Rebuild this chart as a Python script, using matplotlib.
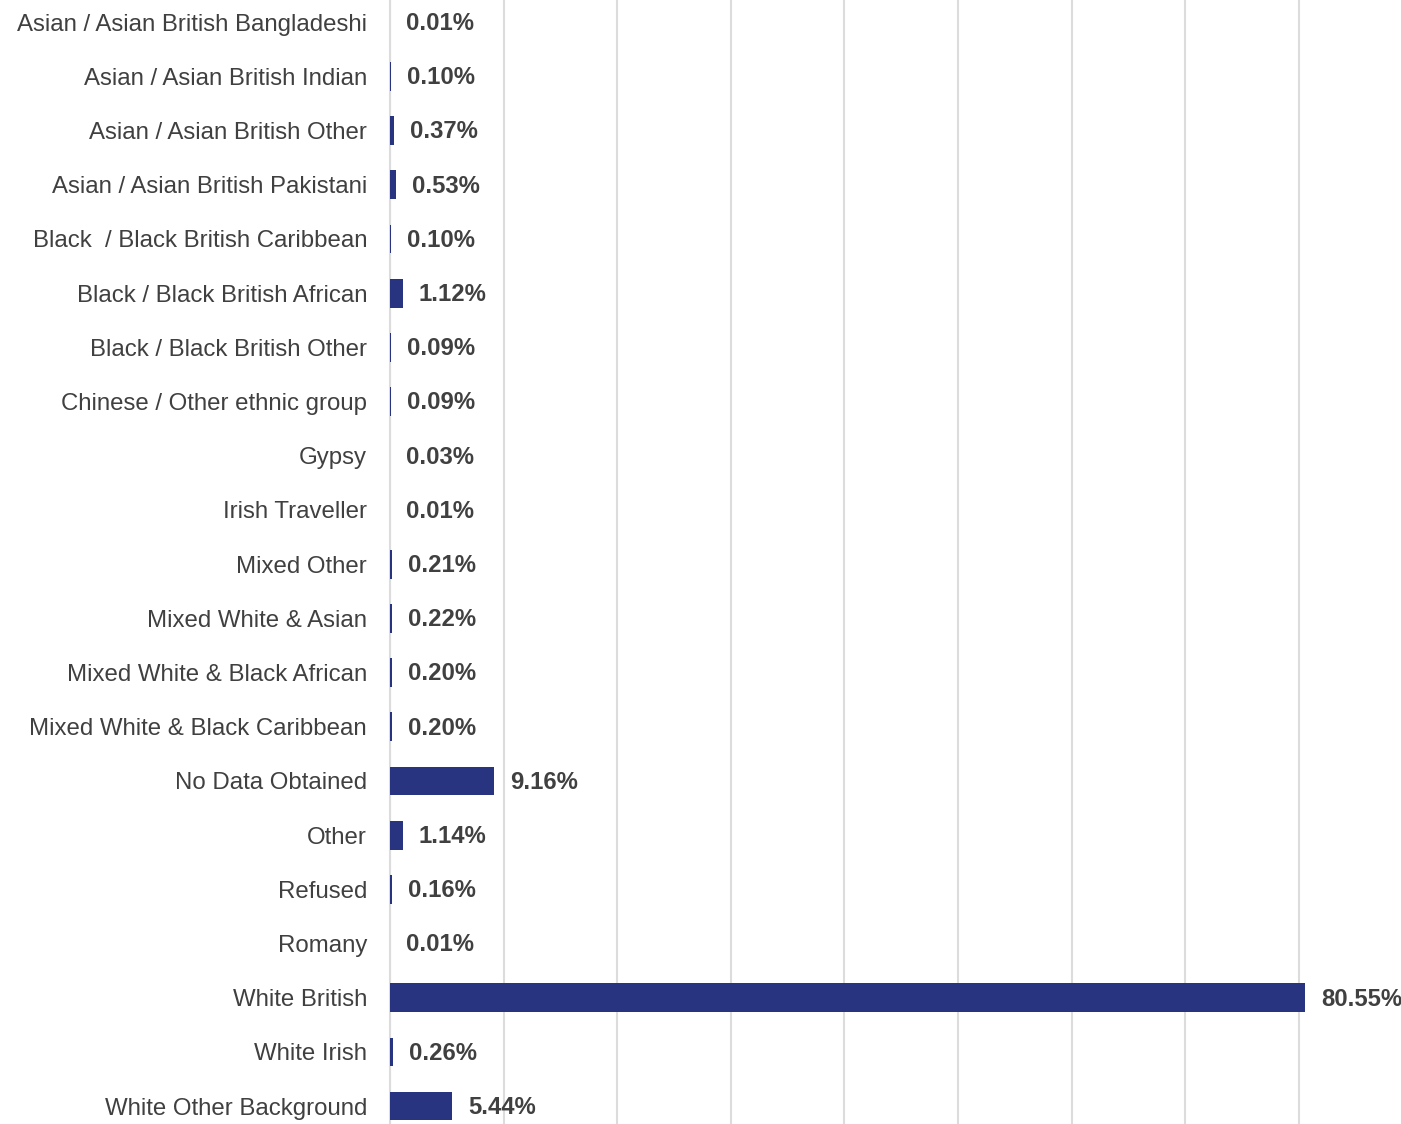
import matplotlib
matplotlib.use("Agg")
import matplotlib.pyplot as plt

groups = [
    "Asian / Asian British Bangladeshi",
    "Asian / Asian British Indian",
    "Asian / Asian British Other",
    "Asian / Asian British Pakistani",
    "Black  / Black British Caribbean",
    "Black / Black British African",
    "Black / Black British Other",
    "Chinese / Other ethnic group",
    "Gypsy",
    "Irish Traveller",
    "Mixed Other",
    "Mixed White & Asian",
    "Mixed White & Black African",
    "Mixed White & Black Caribbean",
    "No Data Obtained",
    "Other",
    "Refused",
    "Romany",
    "White British",
    "White Irish",
    "White Other Background",
]
shares = [0.01, 0.10, 0.37, 0.53, 0.10, 1.12, 0.09, 0.09, 0.03, 0.01,
          0.21, 0.22, 0.20, 0.20, 9.16, 1.14, 0.16, 0.01, 80.55, 0.26, 5.44]

plt.rcParams["font.family"] = ["Liberation Sans", "DejaVu Sans"]

fig = plt.figure(figsize=(14.01, 11.24), dpi=100)
ax = fig.add_axes([390 / 1401, 0, 1 - 390 / 1401, 1])

pos = list(range(len(groups)))
ax.barh(pos, shares, height=0.53, color="#283480", zorder=3)

# percentage labels just right of each bar end
for y, v in zip(pos, shares):
    ax.annotate(f"{v:.2f}%", xy=(v, y), xytext=(11.5, -1), textcoords="offset points",
                va="center", ha="left", fontsize=17.2, fontweight="bold",
                color="#404040", zorder=4)

ax.set_xlim(0, 89)
ax.set_ylim(20.33, -0.41)
ax.set_xticks(range(0, 90, 10))
ax.xaxis.grid(True, color="#dcdcdc", linewidth=1.5, zorder=0)
ax.tick_params(axis="x", length=0, labelbottom=False)
ax.tick_params(axis="y", length=0, pad=16.5)
ax.set_yticks(pos)
ax.set_yticklabels(groups, fontsize=17.3, color="#404040")
for side in ["top", "right", "bottom"]:
    ax.spines[side].set_visible(False)
ax.spines["left"].set_color("#dcdcdc")
ax.spines["left"].set_linewidth(1.5)

fig.savefig("out.png", dpi=100)
